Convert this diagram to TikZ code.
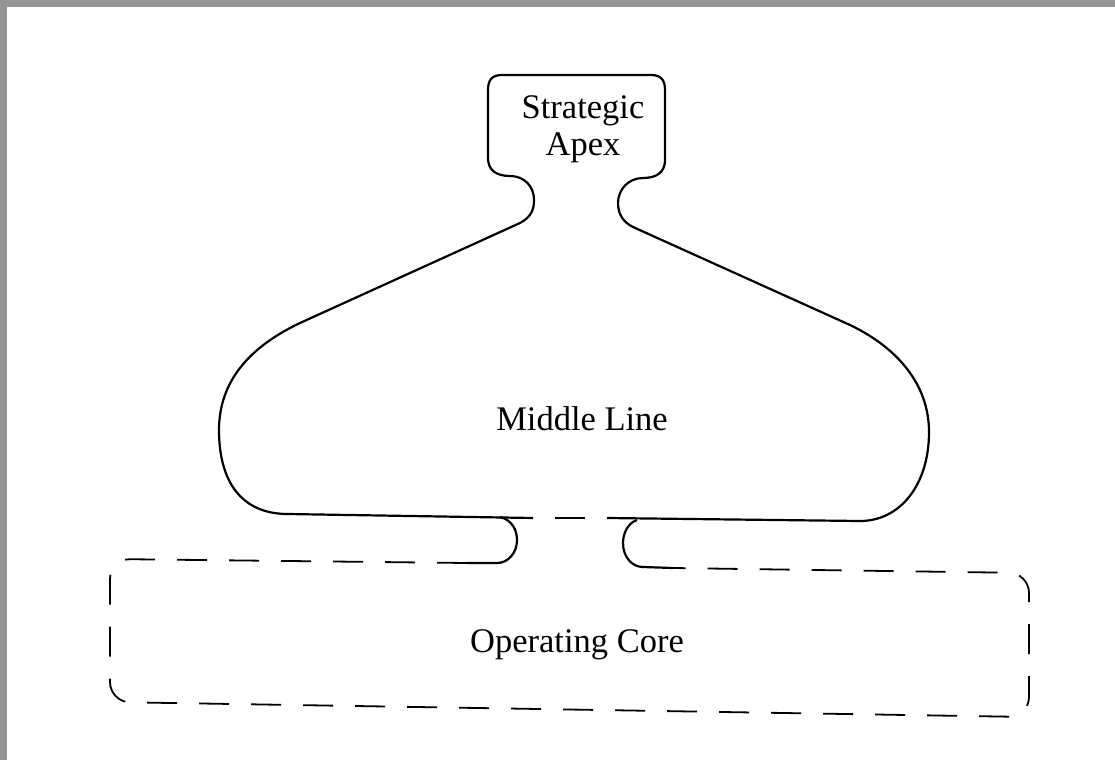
\documentclass[tikz,border=0pt]{standalone}
\usepackage{xcolor}
\usepackage{fontspec}
\setmainfont{Liberation Serif}
\usepackage{tikz}

\definecolor{scangray}{HTML}{959595}
\tikzset{
  outline/.style={line width=2.2pt, line join=round},
  corebox/.style={line width=1.8pt, dash pattern=on 30pt off 22pt},
  label/.style={draw=none, font=\fontsize{34.5}{36.5}\selectfont, align=center, inner sep=0pt}
}

\begin{document}
\begin{tikzpicture}[x=1pt, y=-1pt]
             \useasboundingbox (0,0) rectangle (1115,760);
             \fill[scangray] (0,0) rectangle (1115,7);
             \fill[scangray] (0,0) rectangle (7,760);

             \node[label] (apex) at (583, 129) {Strategic\\Apex};
             \node[label] (middle) at (582, 419) {Middle Line};
             \node[label] (core) at (577, 645) {Operating Core};

             % apex and middle line outline
             \draw[outline] (533,518) -- (288,514)
                   .. controls (240,514) and (219,480) .. (219,430)
                   .. controls (219,375) and (258,343) .. (300,323)
                   -- (520,223)
                   .. controls (531,217) and (534,210) .. (534,200)
                   .. controls (534,186) and (524,176) .. (510,176)
                   .. controls (496,176) and (488,170) .. (488,158)
                   -- (488,90) .. controls (488,80) and (492,75) .. (502,75)
                   -- (651,75) .. controls (661,75) and (665,80) .. (665,90)
                   -- (665,160) .. controls (665,172) and (657,178) .. (643,178)
                   .. controls (628,178) and (618,190) .. (618,203)
                   .. controls (618,214) and (623,222) .. (633,227)
                   -- (850,325)
                   .. controls (898,348) and (929,385) .. (929,432)
                   .. controls (929,485) and (900,521) .. (860,521)
                   -- (607,518);
             \draw[outline, dash pattern=on 0pt off 22pt on 30pt off 22pt] (533,518) -- (607,518);

             % necks into the operating core
             \draw[outline] (500,517) .. controls (512,520) and (517,530) .. (517,540)
                   .. controls (517,553) and (508,563) .. (497,563) -- (467,563);
             \draw[outline] (637,520) .. controls (628,523) and (623,533) .. (623,543)
                   .. controls (623,557) and (632,567) .. (643,567) -- (673,568);

             % operating core
             \draw[corebox, rounded corners=20pt] (467,563) -- (110,559) -- (110,702)
                   -- (1029,717) -- (1029,573) -- (673,568);
\end{tikzpicture}
\end{document}
